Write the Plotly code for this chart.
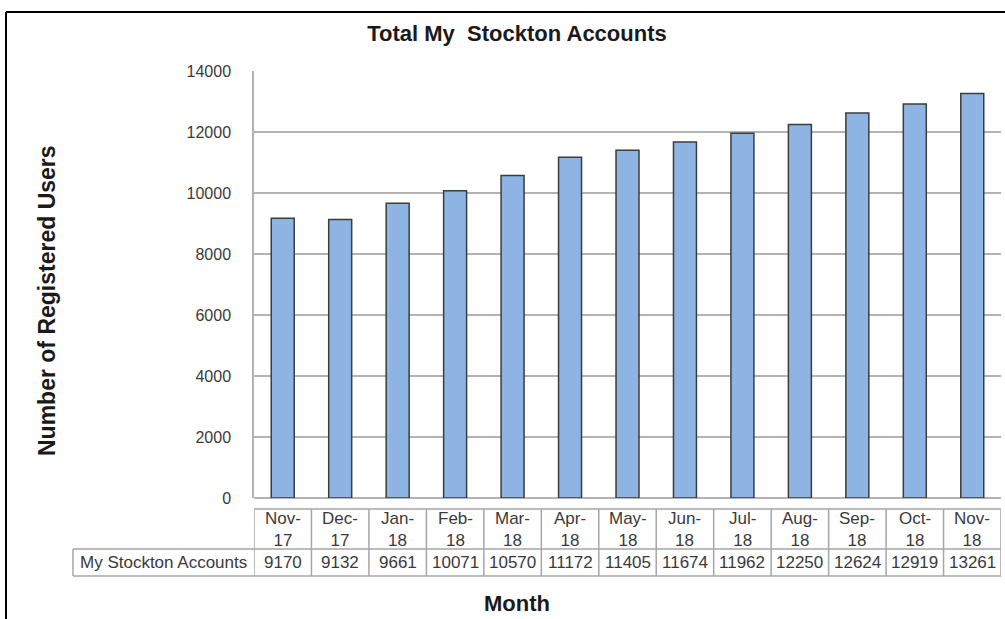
import plotly.graph_objects as go

months = ["Nov-17", "Dec-17", "Jan-18", "Feb-18", "Mar-18", "Apr-18", "May-18",
          "Jun-18", "Jul-18", "Aug-18", "Sep-18", "Oct-18", "Nov-18"]
accounts = [9170, 9132, 9661, 10071, 10570, 11172, 11405, 11674, 11962, 12250, 12624, 12919, 13261]
series_name = "My Stockton Accounts"
y_ticks = [0, 2000, 4000, 6000, 8000, 10000, 12000, 14000]

W, H = 1005, 619
L, R, T, B = 254, 4, 71, 121
pw, ph = W - L - R, H - T - B

def px_x(px):
    return (px - L) / pw

def px_y(py):
    return (H - B - py) / ph

FONT = "Liberation Sans, Arial, sans-serif"
GRID = "#B3B3B3"
TXT = "#3a3a3a"
TFONT = dict(family=FONT, size=17, color=TXT)

idx = list(range(len(months)))
fig = go.Figure()
fig.add_trace(go.Bar(
    x=idx, y=accounts, width=0.4, name=series_name,
    marker=dict(color="#8DB4E2", line=dict(color="#3c3c3c", width=1.5)),
))

shapes = []
annotations = []
y_top = px_y(509)
y_mid = px_y(549)
y_bot = px_y(576)
x_lab = px_x(73)
line = dict(color="#A6A6A6", width=1.5)
shapes.append(dict(type="line", xref="x", yref="paper", x0=-0.5, x1=len(months) - 0.5, y0=y_top, y1=y_top, line=line))
for yy in (y_mid, y_bot):
    shapes.append(dict(type="line", xref="paper", yref="paper", x0=x_lab, x1=1, y0=yy, y1=yy, line=line))
shapes.append(dict(type="line", xref="paper", yref="paper", x0=x_lab, x1=x_lab, y0=y_mid, y1=y_bot, line=line))
for i in range(len(months) + 1):
    shapes.append(dict(type="line", xref="x", yref="paper", x0=i - 0.5, x1=i - 0.5, y0=y_top, y1=y_bot, line=line))

for i, (m, v) in enumerate(zip(months, accounts)):
    mo, yr = m.split("-")
    annotations.append(dict(x=i, xref="x", y=(y_top + y_mid) / 2, yref="paper", text=f"{mo}-<br>{yr}",
                            xanchor="center", yanchor="middle",
                            showarrow=False, font=TFONT, align="center"))
    annotations.append(dict(x=i, xref="x", y=(y_mid + y_bot) / 2, yref="paper", text=str(v),
                            xanchor="center", yanchor="middle",
                            showarrow=False, font=TFONT))
annotations.append(dict(x=x_lab / 2, xref="paper", y=(y_mid + y_bot) / 2, yref="paper", text=series_name,
                        xanchor="center", yanchor="middle",
                        showarrow=False, font=TFONT))

annotations.append(dict(x=px_x(47), xref="paper", y=px_y(301), yref="paper", text="<b>Number of Registered Users</b>",
                        xanchor="center", yanchor="middle",
                        textangle=-90, showarrow=False, font=dict(family=FONT, size=23, color="#1a1a1a")))
annotations.append(dict(x=px_x(517), xref="paper", y=px_y(603), yref="paper", text="<b>Month</b>",
                        xanchor="center", yanchor="middle",
                        showarrow=False, font=dict(family=FONT, size=22, color="#1a1a1a")))

shapes.append(dict(type="line", xref="paper", yref="paper", x0=px_x(6), x1=px_x(1010), y0=px_y(12), y1=px_y(12),
                   line=dict(color="black", width=2)))
shapes.append(dict(type="line", xref="paper", yref="paper", x0=px_x(6), x1=px_x(6), y0=px_y(12), y1=px_y(625),
                   line=dict(color="black", width=2)))

fig.update_layout(
    width=W, height=H,
    margin=dict(l=L, r=R, t=T, b=B, autoexpand=False),
    paper_bgcolor="white", plot_bgcolor="white",
    showlegend=False,
    title=dict(text="<b>Total My  Stockton Accounts</b>", x=px_x(517), xref="paper", xanchor="center",
               y=1 - 33 / H, yref="container", yanchor="middle",
               font=dict(family=FONT, size=22, color="#1a1a1a")),
    xaxis=dict(range=[-0.5, len(months) - 0.5], showticklabels=False, showgrid=False, zeroline=False,
               showline=False, fixedrange=True),
    yaxis=dict(range=[0, 14000], tickvals=y_ticks, tickformat="d", showgrid=True, gridcolor=GRID, gridwidth=1.5,
               zeroline=True, zerolinecolor=GRID, zerolinewidth=1.5,
               showline=True, linecolor=GRID, linewidth=1.5,
               ticks="", ticklabelstandoff=18,
               tickfont=dict(family=FONT, size=16, color=TXT)),
    shapes=shapes, annotations=annotations,
)

fig.write_html("out.html", config={"displayModeBar": False},
               post_script="document.body.style.margin='0';document.body.style.padding='0';")
